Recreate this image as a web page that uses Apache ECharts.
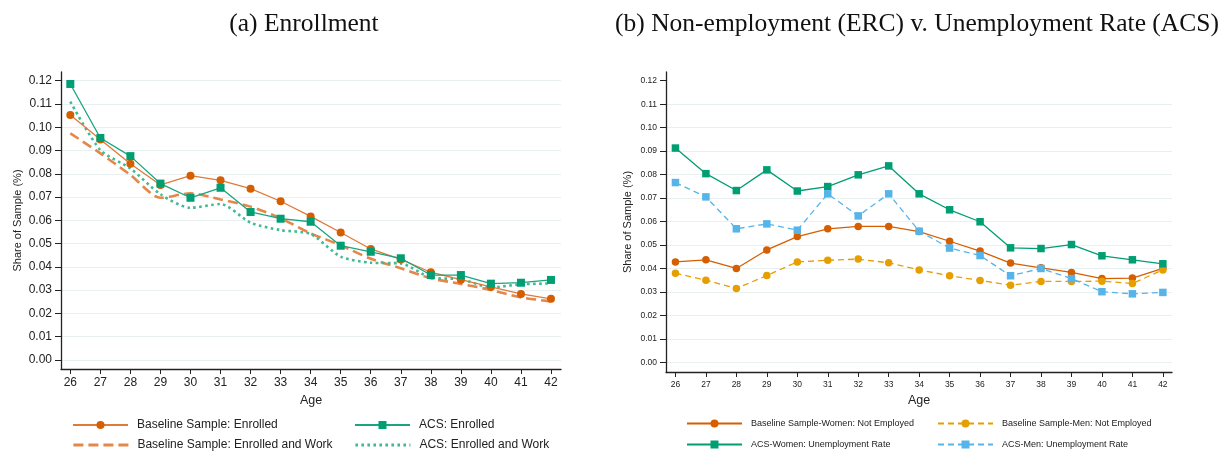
<!DOCTYPE html>
<html>
<head>
<meta charset="utf-8">
<script src="https://cdn.jsdelivr.net/npm/echarts@6/dist/echarts.min.js"></script>
<style>
  html, body { margin: 0; padding: 0; background: #fff; }
  #chart { width: 1220px; height: 451px; }
</style>
</head>
<body>
<div id="chart"></div>
<script>
// Ages on the horizontal axis of both panels
const ages = [26, 27, 28, 29, 30, 31, 32, 33, 34, 35, 36, 37, 38, 39, 40, 41, 42];
const yTicks = [0, 0.01, 0.02, 0.03, 0.04, 0.05, 0.06, 0.07, 0.08, 0.09, 0.10, 0.11, 0.12];

// Panel (a): enrollment shares
const baseEnrolled = [0.1053, 0.0947, 0.0843, 0.0752, 0.0792, 0.0772, 0.0736, 0.0682, 0.0617, 0.0548, 0.0477, 0.0432, 0.0377, 0.0345, 0.0314, 0.0284, 0.0263];
const acsEnrolled = [0.1186, 0.0954, 0.0876, 0.0758, 0.0697, 0.0740, 0.0636, 0.0607, 0.0594, 0.0491, 0.0465, 0.0437, 0.0365, 0.0365, 0.0328, 0.0332, 0.0344];
const baseEnrolledWork = [0.0974, 0.0888, 0.0795, 0.0697, 0.0716, 0.0690, 0.0659, 0.0609, 0.0544, 0.0493, 0.0435, 0.0394, 0.0351, 0.0327, 0.0301, 0.0269, 0.0252];
const acsEnrolledWork = [0.1110, 0.0902, 0.0823, 0.0712, 0.0654, 0.0670, 0.0590, 0.0558, 0.0541, 0.0444, 0.0418, 0.0415, 0.0354, 0.0347, 0.0312, 0.0325, 0.0329];

// Panel (b): non-employment vs unemployment rate
const baseWomenNotEmp = [0.0428, 0.0437, 0.0400, 0.0479, 0.0536, 0.0569, 0.0579, 0.0579, 0.0557, 0.0516, 0.0474, 0.0423, 0.0403, 0.0383, 0.0357, 0.0359, 0.0400];
const baseMenNotEmp = [0.0380, 0.0350, 0.0315, 0.0370, 0.0428, 0.0435, 0.0440, 0.0424, 0.0394, 0.0369, 0.0349, 0.0329, 0.0345, 0.0345, 0.0346, 0.0336, 0.0394];
const acsWomenUnemp = [0.0913, 0.0804, 0.0732, 0.0820, 0.0730, 0.0749, 0.0799, 0.0837, 0.0718, 0.0650, 0.0599, 0.0488, 0.0485, 0.0502, 0.0454, 0.0437, 0.0420];
const acsMenUnemp = [0.0766, 0.0705, 0.0569, 0.0590, 0.0563, 0.0718, 0.0624, 0.0718, 0.0559, 0.0487, 0.0455, 0.0369, 0.0400, 0.0357, 0.0301, 0.0292, 0.0298];

const SANS = '"Liberation Sans", Arial, Helvetica, sans-serif';
const SERIF = '"Liberation Serif", "DejaVu Serif", serif';
const AXIS = '#222';
const GRID = '#e8f0f1';

function pairs(vals) { return ages.map((a, i) => [a, vals[i]]); }

function xAxisFor(gridIndex, fontSize, nameGap, min, max) {
  return {
    type: 'value', gridIndex, min, max,
    name: 'Age', nameLocation: 'middle', nameGap,
    nameTextStyle: { fontFamily: SANS, fontSize: 12.5, color: AXIS },
    axisLine: { show: true, onZero: false, lineStyle: { color: AXIS, width: 1.3 } },
    axisTick: { show: true, length: 5, customValues: ages, lineStyle: { color: AXIS } },
    axisLabel: { customValues: ages, fontFamily: SANS, fontSize, color: AXIS, margin: 8 },
    splitLine: { show: false }
  };
}

function yAxisFor(gridIndex, fontSize, nameGap, min, max, gridColors) {
  return {
    type: 'value', gridIndex, min, max,
    name: 'Share of Sample (%)', nameLocation: 'middle', nameGap, nameRotate: 90,
    nameTextStyle: { fontFamily: SANS, fontSize: 11, color: AXIS },
    axisLine: { show: true, onZero: false, lineStyle: { color: AXIS, width: 1.3 } },
    axisTick: { show: true, length: 6, customValues: yTicks, lineStyle: { color: AXIS } },
    axisLabel: { customValues: yTicks, fontFamily: SANS, fontSize, color: AXIS, margin: 9,
                 formatter: v => v.toFixed(2) },
    splitLine: { show: true, lineStyle: { color: gridColors, width: 1 } }
  };
}

// One legend entry per component so each can sit at its own spot
function legendFor(name, left, top, fontSize, lineOnly) {
  const item = lineOnly
    ? { name, itemStyle: { opacity: 0 }, lineStyle: { width: 2.8 } }
    : { name };
  return {
    data: [item], left, top, orient: 'horizontal',
    itemWidth: 55, itemHeight: 10, padding: 0,
    textStyle: { fontFamily: SANS, fontSize, color: '#222', padding: [0, 0, 0, 4] },
    selectedMode: false
  };
}

const leftGridColors = yTicks.map(() => GRID);
const rightGridColors = yTicks.map((v, i) => i === yTicks.length - 1 ? 'rgba(0,0,0,0)' : GRID);

const option = {
  animation: false,
  backgroundColor: '#fff',
  title: [
    { text: '(a) Enrollment', left: 299, top: 6, textAlign: 'center',
      textStyle: { fontFamily: SERIF, fontSize: 25.5, fontWeight: 'normal', color: '#111' } },
    { text: '(b) Non-employment (ERC) v. Unemployment Rate (ACS)', left: 912, top: 6, textAlign: 'center',
      textStyle: { fontFamily: SERIF, fontSize: 25.5, fontWeight: 'normal', color: '#111' } }
  ],
  grid: [
    { left: 61, right: 659, top: 72, bottom: 82 },
    { left: 666, right: 48, top: 72, bottom: 79 }
  ],
  xAxis: [
    xAxisFor(0, 12, 22, 25.69, 42.333),
    xAxisFor(1, 8.5, 19, 25.69, 42.30)
  ],
  yAxis: [
    yAxisFor(0, 12, 38, -0.00387, 0.12374, leftGridColors),
    yAxisFor(1, 8.5, 33, -0.0041, 0.1237, rightGridColors)
  ],
  legend: [
    legendFor('Baseline Sample: Enrolled', 72, 419, 12, false),
    legendFor('ACS: Enrolled', 354, 419, 12, false),
    legendFor('Baseline Sample: Enrolled and Work', 72, 439, 12, true),
    legendFor('ACS: Enrolled and Work', 354, 439, 12, true),
    legendFor('Baseline Sample-Women: Not Employed', 686, 419, 9, false),
    legendFor('Baseline Sample-Men: Not Employed', 937, 419, 9, false),
    legendFor('ACS-Women: Unemployment Rate', 686, 440, 9, false),
    legendFor('ACS-Men: Unemployment Rate', 937, 440, 9, false)
  ],
  series: [
    { name: 'Baseline Sample: Enrolled and Work', type: 'line', xAxisIndex: 0, yAxisIndex: 0,
      data: pairs(baseEnrolledWork), showSymbol: false, symbol: 'none', smooth: 0.25,
      color: '#e5864a', lineStyle: { width: 2.6, type: [10, 5] }, z: 2 },
    { name: 'ACS: Enrolled and Work', type: 'line', xAxisIndex: 0, yAxisIndex: 0,
      data: pairs(acsEnrolledWork), showSymbol: false, symbol: 'none', smooth: 0.25,
      color: '#3dbb92', lineStyle: { width: 2.6, type: [2.6, 3.4] }, z: 2 },
    { name: 'Baseline Sample: Enrolled', type: 'line', xAxisIndex: 0, yAxisIndex: 0,
      data: pairs(baseEnrolled), symbol: 'circle', symbolSize: 8,
      color: '#d55e00', itemStyle: { color: '#d55e00' }, lineStyle: { width: 1.3, color: '#e07a3a' }, z: 3 },
    { name: 'ACS: Enrolled', type: 'line', xAxisIndex: 0, yAxisIndex: 0,
      data: pairs(acsEnrolled), symbol: 'rect', symbolSize: 8,
      color: '#009e73', itemStyle: { color: '#009e73' }, lineStyle: { width: 1.3, color: '#1aa57e' }, z: 4 },

    { name: 'Baseline Sample-Women: Not Employed', type: 'line', xAxisIndex: 1, yAxisIndex: 1,
      data: pairs(baseWomenNotEmp), symbol: 'circle', symbolSize: 7.5,
      color: '#d55e00', lineStyle: { width: 1.3 }, z: 3 },
    { name: 'Baseline Sample-Men: Not Employed', type: 'line', xAxisIndex: 1, yAxisIndex: 1,
      data: pairs(baseMenNotEmp), symbol: 'circle', symbolSize: 7.5,
      color: '#e69f00', lineStyle: { width: 1.3, type: [6, 4] }, z: 3 },
    { name: 'ACS-Women: Unemployment Rate', type: 'line', xAxisIndex: 1, yAxisIndex: 1,
      data: pairs(acsWomenUnemp), symbol: 'rect', symbolSize: 7.5,
      color: '#009e73', lineStyle: { width: 1.3 }, z: 3 },
    { name: 'ACS-Men: Unemployment Rate', type: 'line', xAxisIndex: 1, yAxisIndex: 1,
      data: pairs(acsMenUnemp), symbol: 'rect', symbolSize: 7.5,
      color: '#56b4e9', lineStyle: { width: 1.3, type: [6, 4] }, z: 3 }
  ]
};

const chart = echarts.init(document.getElementById('chart'), null, { renderer: 'canvas' });
chart.setOption(option);
</script>
</body>
</html>
